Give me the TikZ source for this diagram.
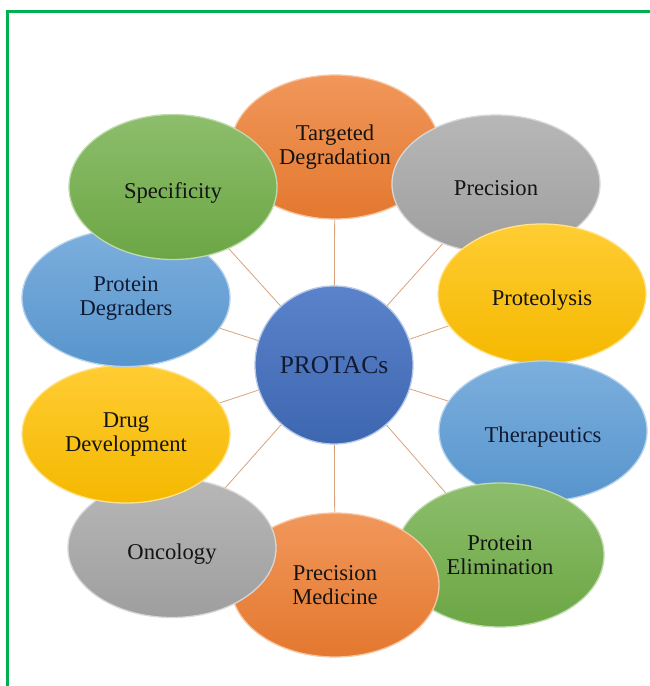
\documentclass[tikz,border=0pt]{standalone}
\usepackage{fontspec}
\setmainfont{Liberation Serif}
\usetikzlibrary{shapes.geometric,backgrounds}

\definecolor{hubblue}{HTML}{4472C4}
\definecolor{petblue}{HTML}{5B9BD5}
\definecolor{petorange}{HTML}{ED7D31}
\definecolor{petgray}{HTML}{A5A5A5}
\definecolor{petgold}{HTML}{FFC000}
\definecolor{petgreen}{HTML}{70AD47}
\definecolor{spokecol}{HTML}{D9A27C}
\definecolor{framegreen}{HTML}{00B050}
\definecolor{navytext}{HTML}{111A33}

\begin{document}
\begin{tikzpicture}[x=1pt, y=-1pt,
  petal/.style={ellipse, minimum width=208pt, minimum height=140pt, inner sep=0pt,
    align=center, font=\fontsize{22.6}{24}\selectfont, text=black!92,
    top color=#1!80!white, bottom color=#1!96!black, draw=#1!45!white, line width=1.3pt},
  oneline/.style={text height=26pt, text depth=4pt},
  hub/.style={circle, minimum size=158pt, inner sep=0pt, font=\fontsize{25.5}{28}\selectfont,
    text=navytext, top color=hubblue!88!white, bottom color=hubblue!90!black,
    draw=hubblue!40!white, line width=1.3pt},
  spoke/.style={draw=spokecol, line width=0.8pt}]
  \useasboundingbox (0,0) rectangle (649,686);

  % outer frame, right and bottom edges fall off the page
  \draw[framegreen, line width=3pt] (7.5,700) |- (700,11.5);

  % petals, each one drawn over the one before it
  \node[petal=petorange, minimum height=144pt] (target) at (335,147) {Targeted\\Degradation};
  \node[petal=petgray, oneline, minimum height=138pt] (precision) at (496,184) {Precision};
  \node[petal=petgold, oneline] (proteo) at (542,294) {Proteolysis};
  \node[petal=petblue, oneline, text=navytext] (thera) at (543,431) {Therapeutics};
  \node[petal=petgreen, minimum height=144pt] (elim) at (500,555) {Protein\\Elimination};
  \node[petal=petorange, minimum height=144pt] (medicine) at (335,585) {Precision\\Medicine};
  \node[petal=petgray, oneline, minimum height=139pt] (onco) at (172,548) {Oncology};
  \node[petal=petgold, minimum height=138pt] (drug) at (126,434) {Drug\\Development};
  \node[petal=petblue, text=navytext, minimum height=137pt] (degraders) at (126,298) {Protein\\Degraders};
  \node[petal=petgreen, oneline, minimum height=145pt] (specific) at (173,187) {Specificity};

  \node[hub] (protacs) at (334,365) {PROTACs};

  \begin{scope}[on background layer]
    \foreach \p in {target,precision,proteo,thera,elim,medicine,onco,drug,degraders,specific}
      \draw[spoke] (protacs) -- (\p);
  \end{scope}
\end{tikzpicture}
\end{document}
